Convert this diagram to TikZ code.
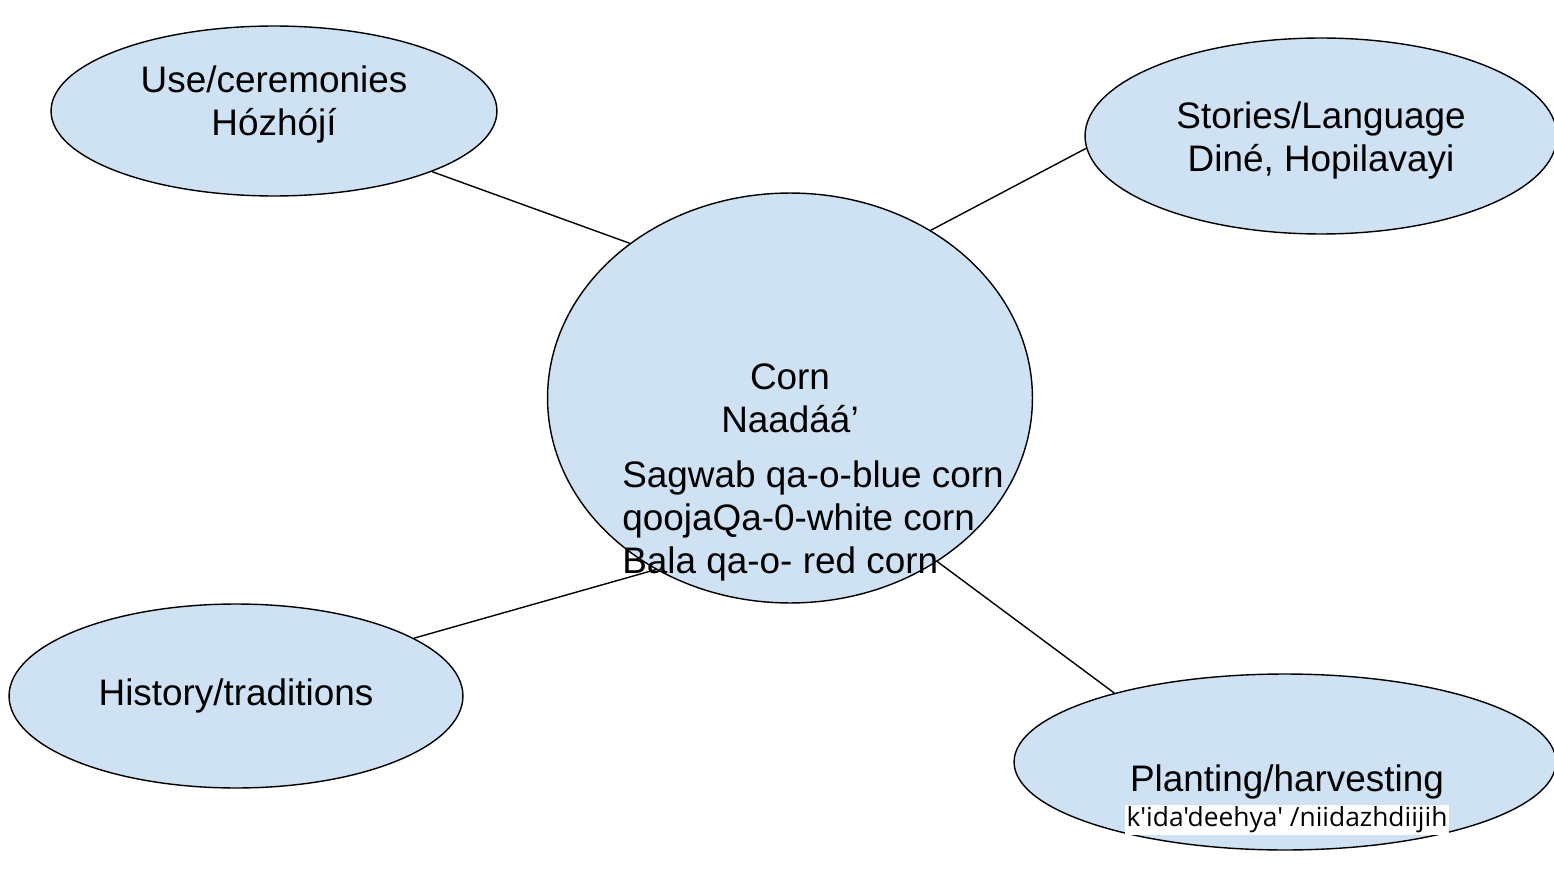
\documentclass[tikz,border=0pt]{standalone}
\usepackage{fontspec}
\setmainfont{Liberation Sans}
\newfontfamily\wordfont{Open Sans}
\usetikzlibrary{shapes.geometric}
\definecolor{cornblue}{HTML}{CFE2F3}
\tikzset{
  topic/.style={ellipse, draw, fill=cornblue, inner sep=0pt, align=center,
    line width=0.8pt, font=\fontsize{21}{24.5}\selectfont},
  plain/.style={inner sep=0pt, align=center, font=\fontsize{21}{24.5}\selectfont},
  link/.style={line width=0.8pt}
}
\begin{document}
\begin{tikzpicture}[x=0.02cm, y=-0.02cm]
  \useasboundingbox (0,0) rectangle (1554,878);
  \node (use) [topic, minimum width=8.92cm, minimum height=3.4cm]
    at (274,111) {};
  \node (usename) [plain] at (274,104) {Use/ceremonies\\Hózhójí};
  \node (stories) [topic, minimum width=9.44cm, minimum height=3.92cm]
    at (1321,136) {};
  \node (storiesname) [plain] at (1321,140) {Stories/Language\\Diné, Hopilavayi};
  \node (corn) [topic, minimum width=9.7cm, minimum height=8.2cm]
    at (790,398) {Corn\\Naadáá’};
  \node (history) [topic, minimum width=9.08cm, minimum height=3.68cm]
    at (236,696) {History/traditions};
  \node (plant) [topic, minimum width=10.84cm, minimum height=3.52cm]
    at (1285,762) {};
  \node (plantname) [plain] at (1287,782) {Planting/harvesting};
  \node (plantword) [fill=white, inner sep=1pt, font=\wordfont\fontsize{15}{17}\selectfont]
    at (1287,820) {k'ida'deehya' /niidazhdiijih};
  \node (kinds) [plain, align=left, anchor=north west] at (622,460)
    {Sagwab qa-o-blue corn\\qoojaQa-0-white corn\\Bala qa-o- red corn};
  \begin{scope}[link]
    \draw (use.-21) -- (corn.136);
    \draw (stories.183) -- (corn.50);
    \draw (history.18) -- (corn.-128);
    \draw (plant.158) -- (corn.-48);
  \end{scope}
\end{tikzpicture}
\end{document}
